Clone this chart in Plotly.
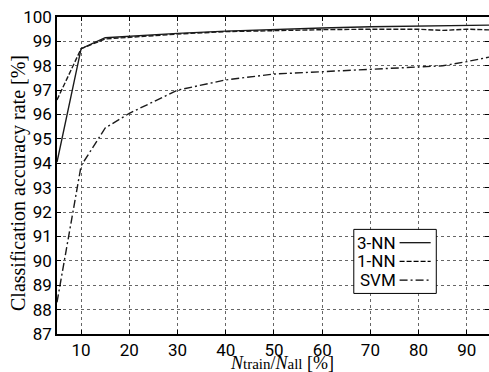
import plotly.graph_objects as go

x_vals = [5, 10, 15, 20, 30, 40, 50, 60, 70, 80, 85, 90, 95]
nn3 = [94.05, 98.7, 99.15, 99.22, 99.33, 99.42, 99.5, 99.55, 99.6, 99.62, 99.62, 99.66, 99.67]
nn1 = [96.6, 98.7, 99.1, 99.17, 99.3, 99.4, 99.45, 99.48, 99.5, 99.5, 99.45, 99.5, 99.47]
svm = [88.3, 93.9, 95.45, 96.05, 97.0, 97.42, 97.66, 97.76, 97.86, 97.96, 98.0, 98.17, 98.37]
series_names = ["3-NN", "1-NN", "SVM"]
x_ticks = [10, 20, 30, 40, 50, 60, 70, 80, 90]
y_ticks = list(range(87, 101))

dashes = ["solid", "5px,2px", "8px,3px,2px,3px"]
fig = go.Figure()
for name, ys, d in zip(series_names, [nn3, nn1, svm], dashes):
    fig.add_trace(go.Scatter(x=x_vals, y=ys, mode="lines", name=name,
                             line=dict(color="#1a1a1a", width=1.4, dash=d),
                             showlegend=False, hoverinfo="skip"))

axis_common = dict(showline=True, linecolor="black", linewidth=1.5, mirror="ticks",
                   ticks="inside", ticklen=4, tickcolor="black",
                   showgrid=True, gridcolor="#666", griddash="dot", gridwidth=1,
                   zeroline=False, automargin=False,
                   tickfont=dict(family="Roboto", size=17, color="black"))

fig.update_xaxes(range=[5, 94.6], tickvals=x_ticks, **axis_common)
fig.update_yaxes(range=[87, 100], tickvals=y_ticks, **axis_common)

fig.add_annotation(xref="paper", yref="paper", x=0.52, y=-0.055,
                   text="<i>N</i><span style='font-size:15px'>train</span>/<i>N</i><span style='font-size:15px'>all</span> [%]",
                   xanchor="center", yanchor="top", showarrow=False,
                   font=dict(family="Liberation Serif", size=18, color="black"))
fig.add_annotation(xref="paper", yref="paper", x=-0.089, y=0.475,
                   text="Classification accuracy rate [%]", textangle=-90,
                   xanchor="center", yanchor="middle", showarrow=False,
                   font=dict(family="Liberation Serif", size=20, color="black"))

# custom legend (text left, line sample right)
lx0, lx1 = 0.687, 0.878
ly0, ly1 = 0.128, 0.33
fig.add_shape(type="rect", xref="paper", yref="paper", x0=lx0, x1=lx1, y0=ly0, y1=ly1,
              line=dict(color="black", width=1), fillcolor="white", layer="above")
rows = [0.288, 0.229, 0.17]
for name, d, yy in zip(series_names, dashes, rows):
    fig.add_annotation(xref="paper", yref="paper", x=0.79, y=yy, text=name,
                       xanchor="right", yanchor="middle", showarrow=False,
                       font=dict(family="Roboto", size=17, color="black"))
    fig.add_shape(type="line", xref="paper", yref="paper", x0=0.793, x1=0.865, y0=yy, y1=yy,
                  line=dict(color="black", width=1.2, dash=d))

fig.update_layout(width=489, height=372, margin=dict(l=57, r=0, t=17, b=38),
                  plot_bgcolor="white", paper_bgcolor="white", showlegend=False)
fig.write_html("out.html", config={"displayModeBar": False},
               post_script="document.body.style.margin='0';document.body.style.overflow='hidden';")
